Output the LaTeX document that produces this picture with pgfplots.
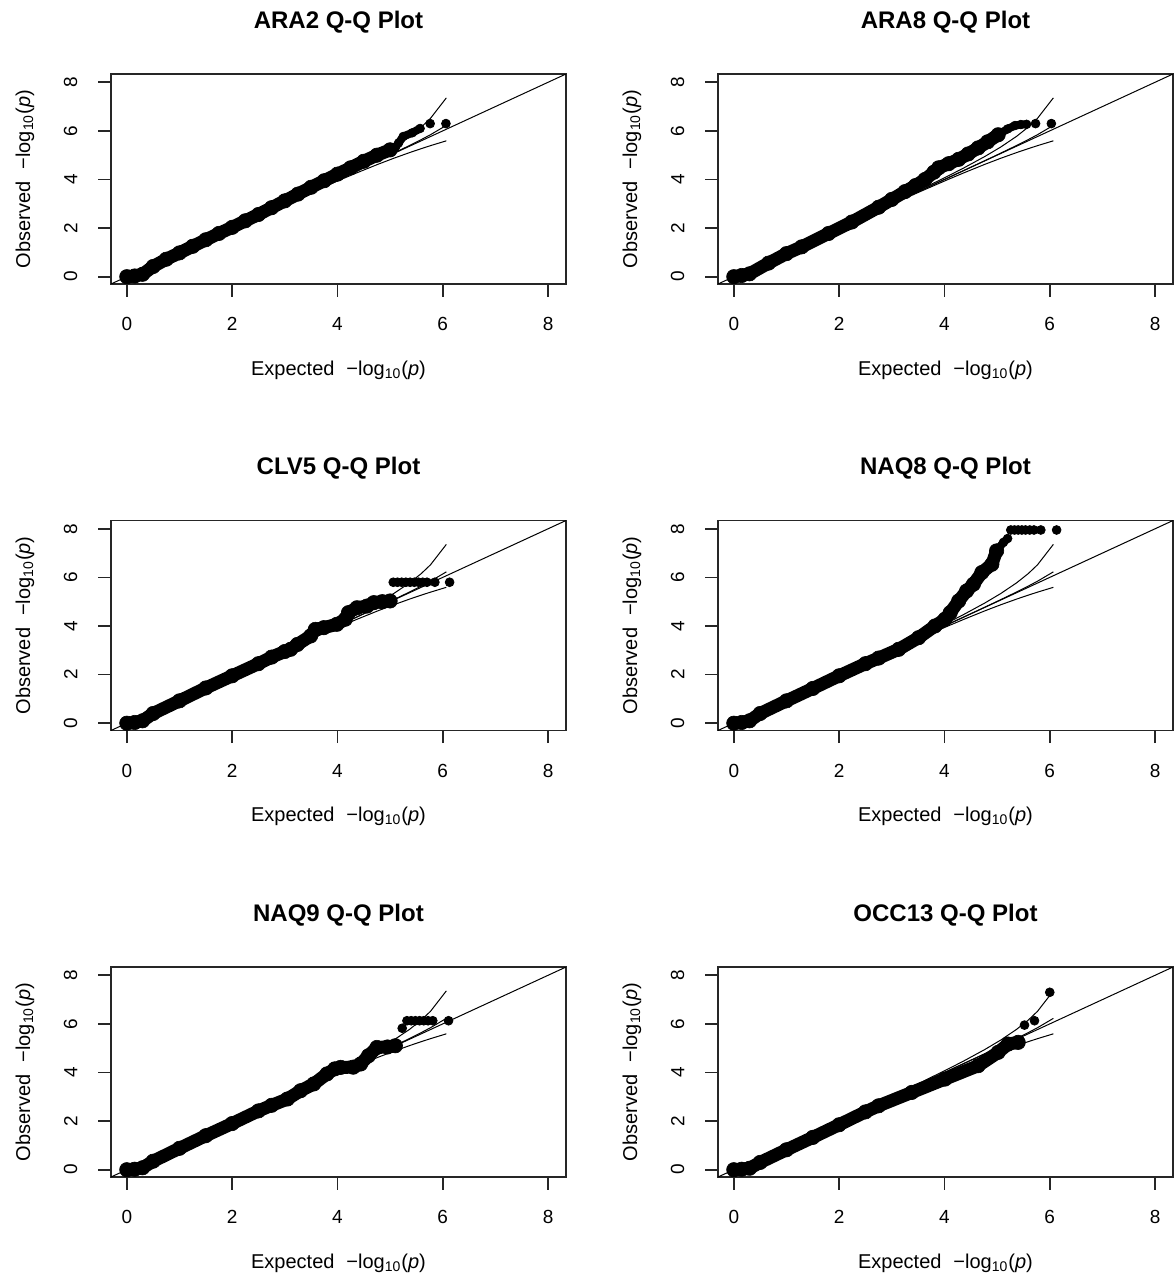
\documentclass[border=0pt]{standalone}
\usepackage{fontspec}
\setmainfont{Liberation Sans}
\usepackage{pgfplots}
\usepackage{pgfplotstable}
\pgfplotsset{compat=1.18}

% expected vs. 5% / median / 95% order-statistic bands
\pgfplotstableread{
x      up     med    low
0      0      0      0
2.068  2.075  2.068  2.061
3.068  3.091  3.068  3.046
3.591  3.634  3.591  3.551
4.068  4.143  4.069  4.000
4.369  4.477  4.372  4.274
4.767  4.946  4.774  4.623
5.068  5.334  5.083  4.872
5.369  5.774  5.399  5.106
5.591  6.155  5.641  5.269
5.767  6.517  5.843  5.392
6.068  7.358  6.227  5.591
}\citab

\pgfplotsset{
  qqpanel/.style={
    scale only axis, width=227.5pt, height=105pt,
    anchor=north west,
    xmin=-0.3, xmax=8.34, ymin=-0.3, ymax=8.34,
    xtick={0,2,4,6,8}, ytick={0,2,4,6,8},
    tick pos=left, tick align=outside,
    major tick length=6.3pt,
    axis line style={line width=0.8pt, black!85},
    every tick/.style={black!85, line width=0.8pt},
    /pgf/number format/assume math mode=true,
    tick label style={font=\fontsize{9.5}{11}\selectfont},
    xticklabel shift=7pt,
    yticklabel shift=7pt,
    yticklabel style={rotate=90, anchor=south},
    xlabel={Expected\hspace{0.6em}−log\textsubscript{10}(\textit{p})},
    ylabel={Observed\hspace{0.6em}−log\textsubscript{10}(\textit{p})},
    label style={font=\fontsize{10}{12}\selectfont},
    every axis x label/.style={at={(axis description cs:0.5,-0.41)}, anchor=center},
    every axis y label/.style={at={(axis description cs:-0.189,0.5)}, anchor=center, rotate=90},
    title style={font=\bfseries\fontsize{12}{14}\selectfont, at={(axis description cs:0.5,1.19)}, anchor=center},
  },
  band/.style={black, line width=6.5pt, line join=round, line cap=round, mark=*, mark size=3.6pt, mark options={line width=0.3pt}},
  chain/.style={black, line width=4pt, line join=round, line cap=round, mark=*, mark size=2.2pt, mark options={line width=0.3pt}},
  tail/.style={only marks, mark=*, mark size=2.2pt, black},
  guide/.style={black, line width=0.5pt, no marks},
}

\begin{document}
\begin{tikzpicture}
\useasboundingbox (0,0) rectangle (587pt,-640pt);

% ---------- row 1 ----------
\begin{axis}[qqpanel, at={(55.5pt,-37pt)}, title={ARA2 Q-Q Plot}]
  \addplot[guide] coordinates {(-0.3,-0.3) (8.34,8.34)};
  \addplot[guide] table[x=x,y=up]{\citab};
  \addplot[guide] table[x=x,y=med]{\citab};
  \addplot[guide] table[x=x,y=low]{\citab};
  \addplot[band] coordinates {
    (0,0) (0.15,0.03) (0.3,0.1) (0.5,0.42) (0.75,0.72) (1.0,0.98) (1.25,1.25)
    (1.5,1.52) (1.75,1.78) (2.0,2.03) (2.25,2.3) (2.5,2.56) (2.75,2.84) (3.0,3.12)
    (3.25,3.4) (3.5,3.68) (3.75,3.95) (4.0,4.22) (4.25,4.48) (4.5,4.75) (4.75,5.0)
    (5.0,5.22)};
  \addplot[chain] coordinates {
    (5.0,5.22) (5.1,5.32) (5.16,5.5) (5.25,5.77) (5.42,5.92) (5.57,6.1)};
  \addplot[tail] coordinates {(5.76,6.3) (6.06,6.3)};
\end{axis}

\begin{axis}[qqpanel, at={(359pt,-37pt)}, title={ARA8 Q-Q Plot}]
  \addplot[guide] coordinates {(-0.3,-0.3) (8.34,8.34)};
  \addplot[guide] table[x=x,y=up]{\citab};
  \addplot[guide] table[x=x,y=med]{\citab};
  \addplot[guide] table[x=x,y=low]{\citab};
  \addplot[band] coordinates {
    (0,0) (0.15,0.05) (0.3,0.12) (0.66,0.56) (1.0,0.95) (1.29,1.23) (1.8,1.78)
    (2.24,2.25) (2.75,2.86) (3.0,3.18) (3.25,3.5) (3.45,3.75) (3.63,4.0) (3.8,4.3)
    (3.89,4.48) (4.08,4.65) (4.27,4.83) (4.45,5.05) (4.64,5.3) (4.82,5.55) (5.02,5.84)};
  \addplot[chain] coordinates {
    (5.02,5.84) (5.2,6.08) (5.34,6.22) (5.45,6.26) (5.56,6.27)};
  \addplot[tail] coordinates {(5.73,6.3) (6.03,6.3)};
\end{axis}

% ---------- row 2 ----------
\begin{axis}[qqpanel, at={(55.5pt,-260.25pt)}, title={CLV5 Q-Q Plot}]
  \addplot[guide] coordinates {(-0.3,-0.3) (8.34,8.34)};
  \addplot[guide] table[x=x,y=up]{\citab};
  \addplot[guide] table[x=x,y=med]{\citab};
  \addplot[guide] table[x=x,y=low]{\citab};
  \addplot[band] coordinates {
    (0,0) (0.15,0.03) (0.3,0.1) (0.5,0.4) (1.0,0.92) (1.5,1.45) (2.0,1.95)
    (2.5,2.45) (2.75,2.72) (3.0,2.95) (3.11,3.04) (3.24,3.24) (3.49,3.59) (3.58,3.86)
    (3.74,3.93) (3.99,4.07) (4.15,4.28) (4.21,4.55) (4.37,4.75) (4.56,4.82)
    (4.69,4.96) (4.85,5.0) (5.0,5.03)};
  \addplot[tail] coordinates {
    (5.06,5.8) (5.14,5.8) (5.22,5.8) (5.3,5.8) (5.38,5.8) (5.46,5.8) (5.54,5.8)
    (5.62,5.8) (5.7,5.8) (5.85,5.8) (6.13,5.8)};
\end{axis}

\begin{axis}[qqpanel, at={(359pt,-260.25pt)}, title={NAQ8 Q-Q Plot}]
  \addplot[guide] coordinates {(-0.3,-0.3) (8.34,8.34)};
  \addplot[guide] table[x=x,y=up]{\citab};
  \addplot[guide] table[x=x,y=med]{\citab};
  \addplot[guide] table[x=x,y=low]{\citab};
  \addplot[band] coordinates {
    (0,0) (0.15,0.03) (0.3,0.1) (0.5,0.4) (1.0,0.92) (1.5,1.43) (2.0,1.95)
    (2.5,2.45) (2.75,2.68) (3.13,3.04) (3.51,3.52) (3.82,4.0) (4.01,4.28) (4.11,4.55)
    (4.27,5.03) (4.42,5.44) (4.55,5.72) (4.71,6.2) (4.9,6.54) (4.99,7.09)};
  \addplot[chain] coordinates {(4.99,7.09) (5.12,7.44) (5.2,7.6)};
  \addplot[tail] coordinates {
    (5.26,7.95) (5.33,7.95) (5.4,7.95) (5.47,7.95) (5.54,7.95) (5.62,7.95)
    (5.7,7.95) (5.83,7.95) (6.13,7.95)};
\end{axis}

% ---------- row 3 ----------
\begin{axis}[qqpanel, at={(55.5pt,-483.5pt)}, title={NAQ9 Q-Q Plot}]
  \addplot[guide] coordinates {(-0.3,-0.3) (8.34,8.34)};
  \addplot[guide] table[x=x,y=up]{\citab};
  \addplot[guide] table[x=x,y=med]{\citab};
  \addplot[guide] table[x=x,y=low]{\citab};
  \addplot[band] coordinates {
    (0,0) (0.15,0.02) (0.3,0.08) (0.5,0.35) (1.0,0.88) (1.5,1.4) (2.0,1.9)
    (2.5,2.42) (2.75,2.65) (3.05,2.91) (3.3,3.25) (3.55,3.53) (3.8,3.94) (3.95,4.15)
    (4.06,4.21) (4.3,4.22) (4.44,4.35) (4.59,4.69) (4.75,5.03) (4.95,5.05) (5.1,5.1)};
  \addplot[tail] coordinates {
    (5.23,5.82) (5.32,6.13) (5.4,6.13) (5.48,6.13) (5.56,6.13) (5.64,6.13)
    (5.72,6.13) (5.81,6.13) (6.11,6.13)};
\end{axis}

\begin{axis}[qqpanel, at={(359pt,-483.5pt)}, title={OCC13 Q-Q Plot}]
  \addplot[guide] coordinates {(-0.3,-0.3) (8.34,8.34)};
  \addplot[guide] table[x=x,y=up]{\citab};
  \addplot[guide] table[x=x,y=med]{\citab};
  \addplot[guide] table[x=x,y=low]{\citab};
  \addplot[band] coordinates {
    (0,0) (0.15,0.02) (0.3,0.06) (0.5,0.3) (1.0,0.82) (1.5,1.33) (2.0,1.85)
    (2.5,2.38) (2.75,2.63) (3.38,3.18) (4.01,3.73) (4.64,4.28) (5.02,4.83)
    (5.21,5.17) (5.4,5.24)};
  \addplot[tail] coordinates {(5.52,5.95) (5.71,6.13) (6.0,7.3)};
\end{axis}
\end{tikzpicture}
\end{document}
